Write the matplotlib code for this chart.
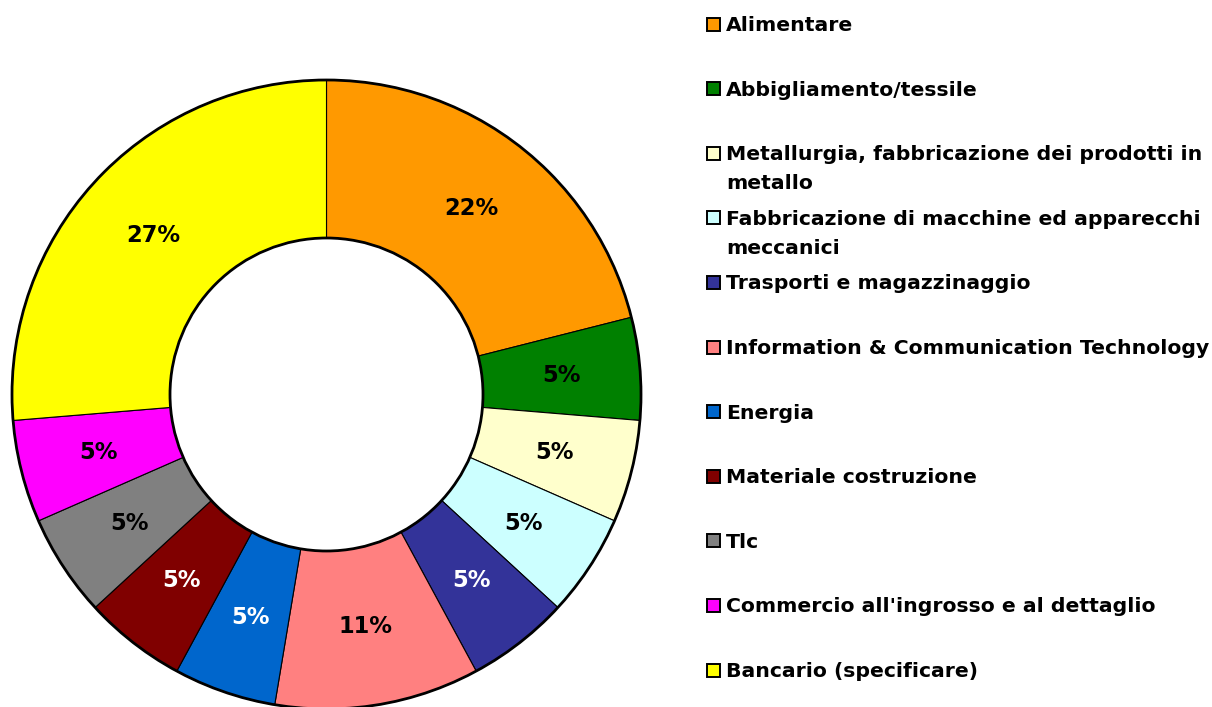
import numpy as np
import matplotlib
matplotlib.use("Agg")
import matplotlib.pyplot as plt
from matplotlib.patches import Rectangle, Circle

# ---- data ----
categories = [
    "Alimentare",
    "Abbigliamento/tessile",
    "Metallurgia, fabbricazione dei prodotti in\nmetallo",
    "Fabbricazione di macchine ed apparecchi\nmeccanici",
    "Trasporti e magazzinaggio",
    "Information & Communication Technology",
    "Energia",
    "Materiale costruzione",
    "Tlc",
    "Commercio all'ingrosso e al dettaglio",
    "Bancario (specificare)",
]
values = [4, 1, 1, 1, 1, 2, 1, 1, 1, 1, 5]
pct_labels = ["22%", "5%", "5%", "5%", "5%", "11%", "5%", "5%", "5%", "5%", "27%"]
colors = ["#FF9900", "#008000", "#FFFFCC", "#CCFFFF", "#333399", "#FF8080",
          "#0066CC", "#800000", "#808080", "#FF00FF", "#FFFF00"]
label_colors = ["black", "black", "black", "black", "white", "black",
                "white", "white", "black", "black", "black"]

W, H = 1212, 707
fig = plt.figure(figsize=(W / 100, H / 100), dpi=100)
ax = fig.add_axes([0, 0, 1, 1])

cx, cy = 326.5, H - 394.5
R_out, R_in = 314.5, 156.5

wedges, _ = ax.pie(values, colors=colors, startangle=90, counterclock=False,
                   center=(cx, cy), radius=R_out,
                   wedgeprops=dict(width=R_out - R_in, edgecolor="black", linewidth=0.8))

# outer & inner thicker outlines
ax.add_patch(Circle((cx, cy), R_out, fill=False, edgecolor="black", linewidth=2.0, zorder=3))
ax.add_patch(Circle((cx, cy), R_in, fill=False, edgecolor="black", linewidth=2.0, zorder=3))

r_lab = (R_out + R_in) / 2
for w, txt, tc in zip(wedges, pct_labels, label_colors):
    ang = np.deg2rad((w.theta1 + w.theta2) / 2)
    ax.text(cx + r_lab * np.cos(ang), cy + r_lab * np.sin(ang), txt,
            ha="center", va="center", fontsize=16.3, fontweight="bold",
            color=tc, family="DejaVu Sans", zorder=4)

# legend
y0, dy, line_h = 24.0, 64.6, 29.0
for i, (cat, col) in enumerate(zip(categories, colors)):
    yc = y0 + i * dy
    ax.add_patch(Rectangle((706.5, H - yc - 6.5), 13, 13, facecolor=col,
                           edgecolor="black", linewidth=1.4, zorder=3))
    for j, line in enumerate(cat.split("\n")):
        ax.text(726, H - (yc + 7 + j * line_h), line, ha="left", va="baseline",
                fontsize=14.7, fontweight="bold", color="black",
                family="DejaVu Sans")

ax.set_xlim(0, W)
ax.set_ylim(0, H)
ax.set_aspect("auto")
ax.axis("off")

fig.savefig("out.png", dpi=100, facecolor="white")
